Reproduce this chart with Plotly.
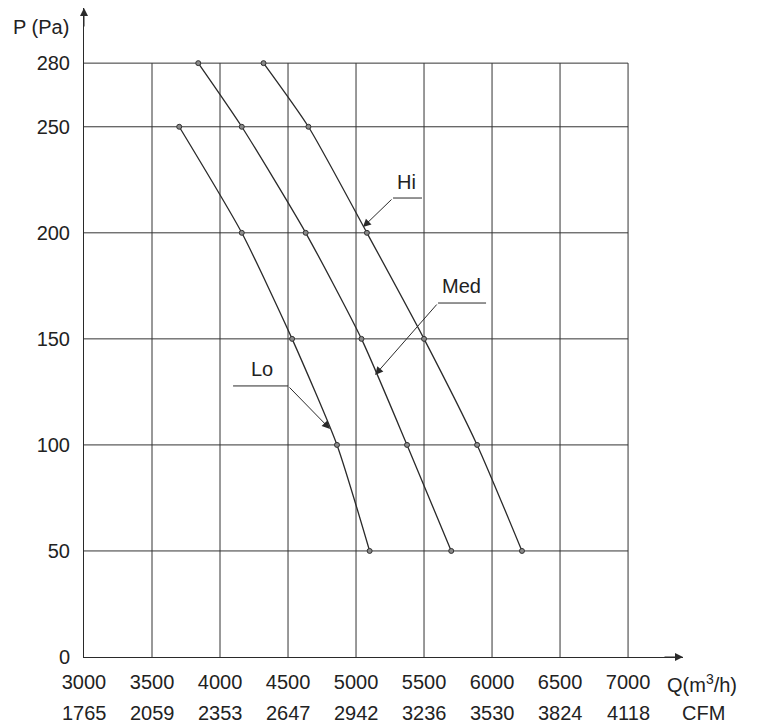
import plotly.graph_objects as go

# ---- data ----
p_ticks = [0, 50, 100, 150, 200, 250, 280]
q_ticks = [3000, 3500, 4000, 4500, 5000, 5500, 6000, 6500, 7000]
cfm_labels = ["1765", "2059", "2353", "2647", "2942", "3236", "3530", "3824", "4118"]

hi_q = [4320, 4650, 5080, 5500, 5890, 6220]
hi_p = [280, 250, 200, 150, 100, 50]
med_q = [3840, 4160, 4630, 5040, 5375, 5700]
med_p = [280, 250, 200, 150, 100, 50]
lo_q = [3700, 4160, 4530, 4860, 5100]
lo_p = [250, 200, 150, 100, 50]

FONT = "Liberation Sans, Arial, sans-serif"
TXT = "#222222"
LINE = "#2a2a2a"

W, H = 761, 727
L, R, T, B = 84, 78, 8, 70
PW, PH = W - L - R, H - T - B


def paper(xpix, ypix):
    return (xpix - L) / PW, (H - B - ypix) / PH


fig = go.Figure()
for q, p in [(hi_q, hi_p), (med_q, med_p), (lo_q, lo_p)]:
    fig.add_trace(go.Scatter(
        x=q, y=p, mode="lines+markers",
        line=dict(color=LINE, width=1.3, shape="spline", smoothing=0.6),
        marker=dict(size=5, color="#888888", line=dict(color="#333333", width=1)),
        showlegend=False, hoverinfo="skip"))

shapes = []
for q in q_ticks[1:]:
    shapes.append(dict(type="line", xref="x", yref="y", x0=q, x1=q, y0=0, y1=280,
                       line=dict(color="#333333", width=1), layer="below"))
for p in p_ticks[1:]:
    shapes.append(dict(type="line", xref="x", yref="y", x0=3000, x1=7000, y0=p, y1=p,
                       line=dict(color="#333333", width=1), layer="below"))

# label leader horizontal segments
shapes.append(dict(type="line", xref="x", yref="y", x0=5272, x1=5485, y0=216.4, y1=216.4,
                   line=dict(color=LINE, width=1)))
shapes.append(dict(type="line", xref="x", yref="y", x0=5603, x1=5956, y0=166.9, y1=166.9,
                   line=dict(color=LINE, width=1)))
shapes.append(dict(type="line", xref="x", yref="y", x0=4096, x1=4500, y0=127.8, y1=127.8,
                   line=dict(color=LINE, width=1)))

ann = []
for (tx, ty, sx, sy) in [(5051, 202.7, 5272, 216.4), (5140, 133, 5603, 166.9), (4809, 107.5, 4500, 127.8)]:
    ann.append(dict(x=tx, y=ty, ax=sx, ay=sy, xref="x", yref="y", axref="x", ayref="y",
                    text="", showarrow=True, arrowhead=2, arrowsize=1.6, arrowwidth=1,
                    arrowcolor=LINE, standoff=0))
for (t, x, y) in [("Hi", 5368, 224), ("Med", 5779, 175), ("Lo", 4309, 136)]:
    ann.append(dict(x=x, y=y, xref="x", yref="y", text=t, showarrow=False,
                    xanchor="center", font=dict(family=FONT, size=20, color=TXT)))
cfm_y = paper(0, 713)[1]
for q, lab in zip(q_ticks, cfm_labels):
    ann.append(dict(x=q, y=cfm_y, xref="x", yref="paper", text=lab, showarrow=False,
                    xanchor="center", yanchor="middle",
                    font=dict(family=FONT, size=20, color=TXT)))
# axis arrows
ann.append(dict(x=7404, y=0, xref="x", yref="y", ax=-20, ay=0, text="", showarrow=True,
                arrowhead=2, arrowsize=1.6, arrowwidth=1, arrowcolor=LINE, standoff=0))
ann.append(dict(x=3000, y=306, xref="x", yref="y", ax=0, ay=20, text="", showarrow=True,
                arrowhead=2, arrowsize=1.6, arrowwidth=1, arrowcolor=LINE, standoff=0))
# axis titles
for t, (xp, yp) in [("P (Pa)", paper(41, 27)), ("Q(m<sup>3</sup>/h)", paper(702, 683)),
                    ("CFM", paper(703, 713))]:
    ann.append(dict(x=xp, y=yp, xref="paper", yref="paper", text=t, showarrow=False,
                    xanchor="center", yanchor="middle",
                    font=dict(family=FONT, size=20, color=TXT)))

fig.update_layout(
    width=W, height=H,
    margin=dict(l=L, r=R, t=T, b=B, autoexpand=False),
    paper_bgcolor="white", plot_bgcolor="white",
    xaxis=dict(range=[3000, 7404], tickvals=q_ticks, ticktext=[str(v) for v in q_ticks],
               showgrid=False, zeroline=False, showline=True, linecolor=LINE, linewidth=1,
               ticks="", ticklabelstandoff=7, automargin=False,
               tickfont=dict(family=FONT, size=20, color=TXT)),
    yaxis=dict(range=[0, 306], tickvals=p_ticks, ticktext=[str(v) for v in p_ticks],
               showgrid=False, zeroline=False, showline=True, linecolor=LINE, linewidth=1,
               ticks="", ticklabelstandoff=9, automargin=False,
               tickfont=dict(family=FONT, size=20, color=TXT)),
    shapes=shapes,
    annotations=ann,
)

fig.write_html("out.html")
